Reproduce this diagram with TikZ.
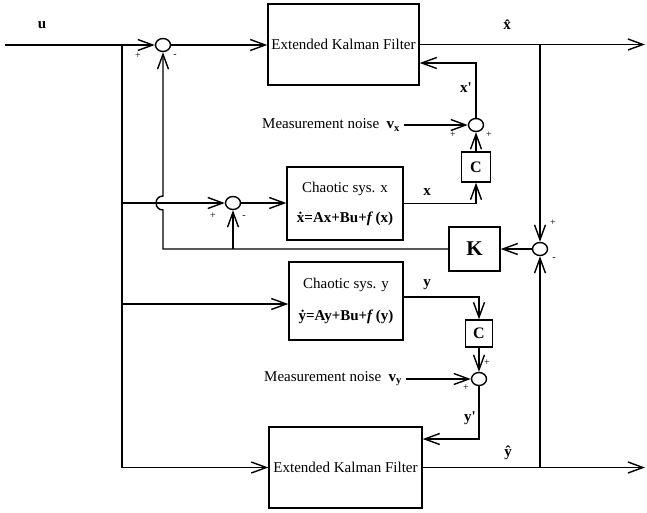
\documentclass[tikz,border=0pt]{standalone}
\usepackage{fontspec}
\setmainfont{Liberation Serif}
\usetikzlibrary{positioning,shapes.geometric,arrows.meta}
\newcommand{\noisev}[1]{\textbf{v}\textsubscript{\textbf{#1}}}

\begin{document}
\begin{tikzpicture}[x=1pt,y=-1pt,line width=1.4pt,
  >={Straight Barb[length=15pt,width=11pt]},
  every node/.style={font=\fontsize{15}{18}\selectfont},
  blk/.style={draw,rectangle,inner sep=0pt},
  sumpt/.style={draw,ellipse,minimum width=15pt,minimum height=13pt,inner sep=0pt},
  sgn/.style={font=\fontsize{10}{11}\selectfont,inner sep=0pt},
  lbl/.style={font=\fontsize{15}{18}\selectfont\bfseries,inner sep=0pt}]
\useasboundingbox (0,0) rectangle (647,512);
\node[blk,minimum width=151pt,minimum height=81pt] (ekfx) at (343.5,44.5) {Extended Kalman Filter};
\node[blk,minimum width=153pt,minimum height=81pt] (ekfy) at (345.5,467.5) {Extended Kalman Filter};
\node[blk,minimum width=116pt,minimum height=73pt,align=center] (chx) at (345,203.5) {Chaotic sys. x\\[12pt]\textbf{ẋ=Ax+Bu+\textit{f}\,(x)}};
\node[blk,minimum width=114pt,minimum height=78pt,align=center] (chy) at (346,301) {Chaotic sys. y\\[14pt]\textbf{ẏ=Ay+Bu+\textit{f}\,(y)}};
\node[blk,minimum width=51pt,minimum height=44pt,font=\fontsize{21}{24}\selectfont\bfseries] (kbox) at (474.5,249) {K};
\node[blk,minimum width=29pt,minimum height=30pt,font=\fontsize{16}{18}\selectfont\bfseries] (cx) at (476,167) {C};
\node[blk,minimum width=27pt,minimum height=27pt,font=\fontsize{16}{18}\selectfont\bfseries] (cy) at (479,333.5) {C};
\node[sumpt] (sum1) at (163,45) {};
\node[sumpt] (sum2) at (233,203) {};
\node[sumpt] (sumx) at (476,125) {};
\node[sumpt] (sumy) at (479,379) {};
\node[sumpt] (sum3) at (540,249) {};
\node[anchor=east] (nx) at (404,125) {Measurement noise \ \noisev{x}};
\node[anchor=east] (ny) at (406,379) {Measurement noise \ \noisev{y}};
\coordinate (uin) at (5,45);
\coordinate (ju) at (122,45);
\coordinate (jxin) at (122,203);
\coordinate (jyin) at (122,304);
\coordinate (jk) at (233,249);
\coordinate (hop) at (163,203);
\coordinate (jx) at (540,44.5);
\coordinate (xout) at (645,44.5);
\coordinate (jy) at (540,467.5);
\coordinate (yout) at (645,467.5);
\draw[->] (uin) -- (sum1);
\draw[->] (sum1.east) -- (sum1.east -| ekfx.west);
\draw[->] (ju) |- (ekfy.west);
\draw[->] (jxin) -- (sum2);
\draw[->] (sum2) -- (sum2 -| chx.west);
\draw[->] (jyin) -- (jyin -| chy.west);
\draw[->] (ekfx.east) -- (xout);
\draw[->] (jx) -- (sum3);
\draw[->] (ekfy.east) -- (yout);
\draw[->] (jy) -- (sum3);
\draw[->] (sum3) -- (kbox);
\draw[->] (kbox.west) -| ([yshift=-7pt]hop) to[out=180,in=180,looseness=1.7] ([yshift=7pt]hop) -- (sum1.south);
\draw[->] (jk) -- (sum2);
\draw[->] (chx.east) -| (cx);
\draw[->] (cx) -- (sumx);
\draw[->] (nx) -- (sumx);
\draw[->] (sumx) |- ([yshift=-18.5pt]ekfx.east);
\draw[->] ([yshift=4pt]chy.east) -| (cy);
\draw[->] (cy) -- (sumy);
\draw[->] (ny) -- (sumy);
\draw[->] (sumy) |- ([yshift=28.5pt]ekfy.east);
\node[lbl] (ulbl) at (42,25) {u};
\node[lbl] (xhatlbl) at (507,25) {\^{x}};
\node[lbl] (yhatlbl) at (508,453) {\^{y}};
\node[lbl] (xlbl) at (427,192) {x};
\node[lbl] (ylbl) at (427,285) {y};
\node[lbl] (xplbl) at (466,88) {x\textquotesingle};
\node[lbl] (yplbl) at (470,418) {y\textquotesingle};
\node[sgn] (s1p) at (138,56) {+};
\node[sgn] (s1m) at (175,56) {-};
\node[sgn] (s2p) at (213,216) {+};
\node[sgn] (s2m) at (244,217) {-};
\node[sgn] (sxp1) at (453,135) {+};
\node[sgn] (sxp2) at (489,135) {+};
\node[sgn] (syp1) at (466,388) {+};
\node[sgn] (syp2) at (487,363) {+};
\node[sgn] (s3p) at (553,223) {+};
\node[sgn] (s3m) at (554,259) {-};
\end{tikzpicture}
\end{document}
